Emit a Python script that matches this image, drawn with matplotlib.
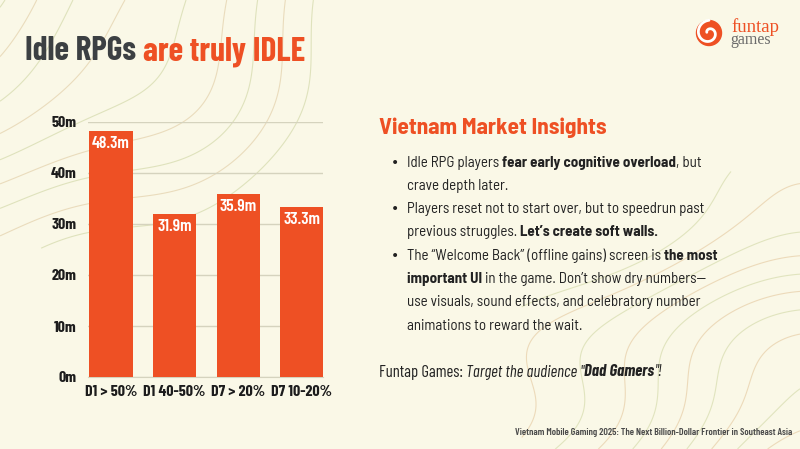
import matplotlib
matplotlib.use("Agg")
import matplotlib.pyplot as plt
import numpy as np
from matplotlib.patches import Circle

# ---------------- data ----------------
categories = ["D1 > 50%", "D1 40-50%", "D7 > 20%", "D7 10-20%"]
values = [48.3, 31.9, 35.9, 33.3]
value_labels = ["48.3m", "31.9m", "35.9m", "33.3m"]
yticks = [0, 10, 20, 30, 40, 50]
ytick_labels = ["0m", "10m", "20m", "30m", "40m", "50m"]

title_dark = "Idle RPGs "
title_orange = "are truly IDLE"
panel_title = "Vietnam Market Insights"
bullets = [
    [[("Idle RPG players", "n"), ("fear early cognitive overload", "b"), (", but", "n0")],
     [("crave depth later.", "n")]],
    [[("Players reset not to start over, but to speedrun past", "n")],
     [("previous struggles.", "n"), ("Let\u2019s create soft walls.", "b")]],
    [[("The \u201cWelcome Back\u201d (offline gains) screen is", "n"), ("the most", "b")],
     [("important UI", "b"), ("in the game. Don\u2019t show dry numbers\u2014", "n")],
     [("use visuals, sound effects, and celebratory number", "n")],
     [("animations to reward the wait.", "n")]],
]
closing = [("Funtap Games:", "n"), ("Target the audience \"", "i"), ("Dad Gamers", "bi0"), ("\"!", "i0")]
footer = "Vietnam Mobile Gaming 2025: The Next Billion-Dollar Frontier in Southeast Asia"

# ---------------- style ----------------
BG = "#FAF8E7"
ORANGE = "#EE5024"
DARK = "#3C4043"
TEXT = "#222222"
W, H = 800, 449

fig = plt.figure(figsize=(8, 4.49), dpi=100, facecolor=BG)

def fx(x):
    return x / W

def fy(y):
    return 1 - y / H

# decorative contour background
bg = fig.add_axes([0, 0, 1, 1], zorder=-5)
bg.set_xlim(0, W)
bg.set_ylim(H, 0)
bg.axis("off")
gx, gy = np.meshgrid(np.linspace(0, W, 300), np.linspace(0, H, 200))
field1 = np.hypot((gx + 60) / 1.0, (gy + 40) / 0.8) + 18 * np.sin(gx / 45.0) + 14 * np.cos(gy / 38.0)
m1 = (gx < 360) & (gy < 250)
bg.contour(gx, gy, np.where(m1, field1, np.nan), levels=np.arange(60, 420, 38),
           colors=["#E8D9B8", "#DCE0B8"], linewidths=0.8, alpha=0.9)
field2 = np.hypot((gx - 860) / 1.0, (gy - 520) / 0.9) + 20 * np.sin(gy / 30.0) + 16 * np.cos(gx / 50.0)
m2 = (gx > 520) & (gy > 170)
bg.contour(gx, gy, np.where(m2, field2, np.nan), levels=np.arange(60, 420, 30),
           colors=["#EBD7B5", "#DEE2BA"], linewidths=0.8, alpha=0.9)

# ---------------- chart ----------------
unit = 63.6
x_left_px, x_right_px = 88, 323
y_top_px, y_bot_px = 122, 377
ax = fig.add_axes([fx(x_left_px), fy(y_bot_px), (x_right_px - x_left_px) / W,
                   (y_bot_px - y_top_px) / H])
ax.set_facecolor("none")
x = np.arange(len(categories))
ax.set_xlim(-(111 - x_left_px) / unit, 3 + (x_right_px - 301.8) / unit)
ax.set_ylim(0, 50)
ax.bar(x, values, width=0.68, color=ORANGE, zorder=3)
for xi, v, lab in zip(x, values, value_labels):
    ax.annotate(lab, (xi, v), xytext=(0, -3.5), textcoords="offset points",
                ha="center", va="top", color="white", fontsize=12.5,
                family="Barlow Condensed", fontweight="semibold", zorder=4)
ax.set_yticks(yticks)
ax.set_yticklabels(ytick_labels)
ax.set_xticks(x)
ax.set_xticklabels(categories)
ax.grid(axis="y", color="#D5D3BE", linewidth=1.0, zorder=0)
for s in ["top", "right", "left"]:
    ax.spines[s].set_visible(False)
ax.spines["bottom"].set_color("#D5D3BE")
ax.tick_params(axis="both", length=0, colors=TEXT)
ax.tick_params(axis="y", pad=8)
ax.tick_params(axis="x", pad=6)
for t in ax.get_xticklabels() + ax.get_yticklabels():
    t.set_family("Barlow Condensed")
    t.set_fontweight("bold")
    t.set_fontsize(11.5)
    t.set_color("#1C1C1C")

# ---------------- text helpers ----------------
fig.canvas.draw()
renderer = fig.canvas.get_renderer()

STYLES = {
    "n": dict(fontweight="normal", fontstyle="normal"),
    "b": dict(fontweight="bold", fontstyle="normal"),
    "i": dict(fontweight="normal", fontstyle="italic"),
    "bi": dict(fontweight="bold", fontstyle="italic"),
}

def width_px(s, family, size, weight="normal", style="normal"):
    t = fig.text(0, 0, s, family=family, fontsize=size, fontweight=weight, fontstyle=style)
    w = t.get_window_extent(renderer).width
    t.remove()
    return w

def draw_runs(x_px, y_px, runs, family, size, color):
    space = width_px("x x", family, size) - width_px("xx", family, size)
    cur = x_px
    for k, (s, key) in enumerate(runs):
        no_space = key.endswith("0")
        st = STYLES[key.rstrip("0")]
        if k > 0 and not no_space:
            cur += space
        t = fig.text(fx(cur), fy(y_px), s, family=family, fontsize=size, color=color,
                     va="baseline", ha="left", **st)
        cur += t.get_window_extent(renderer).width
    return cur

# title
end = draw_runs(25, 60, [(title_dark.strip(), "b")], "Barlow Condensed", 24, DARK)
sp = width_px("x x", "Barlow Condensed", 24, "bold") - width_px("xx", "Barlow Condensed", 24, "bold")
fig.text(fx(end + sp), fy(60), title_orange, family="Barlow Condensed", fontsize=24,
         fontweight="bold", color=ORANGE, va="baseline", ha="left")

# panel title
fig.text(fx(379), fy(134), panel_title, family="Barlow Semi Condensed", fontsize=16.8,
         fontweight="bold", color=ORANGE, va="baseline", ha="left")

# bullets
line_h = 23.3
y = 166.5
for b in bullets:
    fig.text(fx(395), fy(y - 4.0), "\u2022", family="DejaVu Sans", fontsize=10,
             color=TEXT, ha="center", va="center")
    for line in b:
        draw_runs(407, y, line, "Barlow Semi Condensed", 10.8, TEXT)
        y += line_h

draw_runs(379, 376.5, closing, "Barlow Condensed", 12, TEXT)

fig.text(fx(792), fy(435), footer, family="Barlow Condensed", fontsize=7.2,
         fontweight="semibold", color="#4A4A4A", ha="right", va="baseline")

# logo
lg = fig.add_axes([0, 0, 1, 1], zorder=5)
lg.set_xlim(0, W)
lg.set_ylim(H, 0)
lg.axis("off")
lg.add_patch(Circle((709, 33), 12.5, color=ORANGE))
th = np.linspace(0.3, 2 * np.pi * 1.25, 200)
r = 2.0 + 1.45 * th
lg.plot(709 + r * np.cos(th + np.pi) * 0.95, 33 + r * np.sin(th + np.pi) * 0.95,
        color="white", linewidth=2.0, solid_capstyle="round")
fig.text(fx(731), fy(32), "funtap", family="Liberation Serif", fontsize=13.5,
         color=ORANGE, ha="left", va="baseline")
fig.text(fx(730), fy(44.5), "games", family="Liberation Serif", fontsize=11.5,
         color="#6B6B6B", ha="left", va="baseline")

fig.savefig("out.png", dpi=100, facecolor=BG)
